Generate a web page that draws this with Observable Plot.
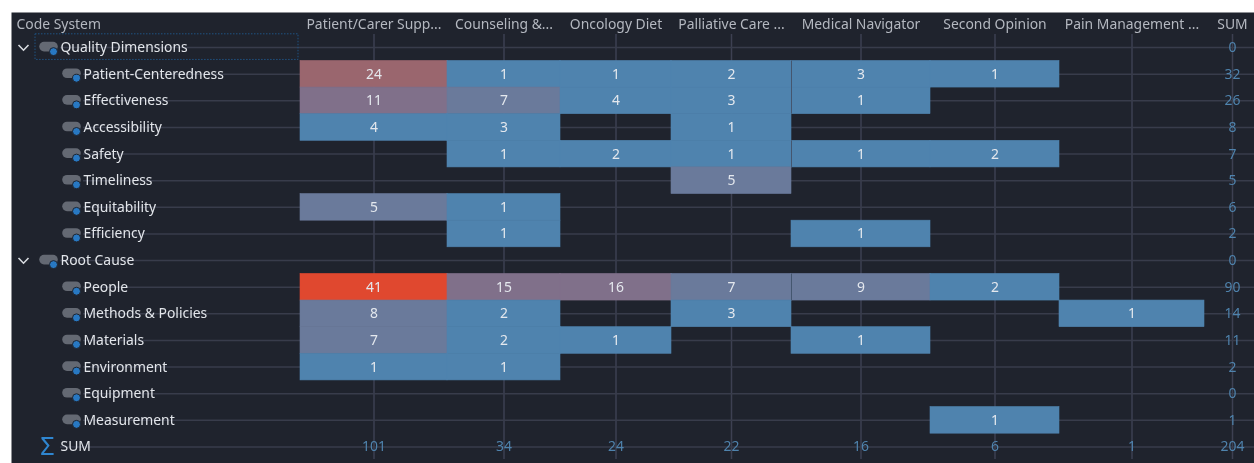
<!DOCTYPE html>
<html>
<head>
<meta charset="utf-8">
<script src="https://cdn.jsdelivr.net/npm/d3@7"></script>
<script src="https://cdn.jsdelivr.net/npm/@observablehq/plot@0.6"></script>
<style>
html,body{margin:0;padding:0;background:#fff;}
svg{display:block;filter:blur(0.4px);}
</style>
</head>
<body>
<div id="chart"></div>
<script>
const columns = ["Patient/Carer Supp...", "Counseling &...", "Oncology Diet", "Palliative Care ...", "Medical Navigator", "Second Opinion", "Pain Management ...", "SUM"];
const headerCorner = "Code System";
const groupRows = ["Quality Dimensions", "Root Cause"];
const sumRows = ["SUM"];
const rows = ["Quality Dimensions", "Patient-Centeredness", "Effectiveness", "Accessibility", "Safety", "Timeliness", "Equitability", "Efficiency", "Root Cause", "People", "Methods & Policies", "Materials", "Environment", "Equipment", "Measurement", "SUM"];

const patientCenteredness = [24, 1, 1, 2, 3, 1, 0];
const effectiveness = [11, 7, 4, 3, 1, 0, 0];
const accessibility = [4, 3, 0, 1, 0, 0, 0];
const safety = [0, 1, 2, 1, 1, 2, 0];
const timeliness = [0, 0, 0, 5, 0, 0, 0];
const equitability = [5, 1, 0, 0, 0, 0, 0];
const efficiency = [0, 1, 0, 0, 1, 0, 0];
const people = [41, 15, 16, 7, 9, 2, 0];
const methods = [8, 2, 0, 3, 0, 0, 1];
const materials = [7, 2, 1, 0, 1, 0, 0];
const environment = [1, 1, 0, 0, 0, 0, 0];
const equipment = [0, 0, 0, 0, 0, 0, 0];
const measurement = [0, 0, 0, 0, 0, 1, 0];
const rowSums = [0, 32, 26, 8, 7, 5, 6, 2, 0, 90, 14, 11, 2, 0, 1];
const columnSums = [101, 34, 24, 22, 16, 6, 1, 204];

const matrix = {
  "Patient-Centeredness": patientCenteredness, "Effectiveness": effectiveness,
  "Accessibility": accessibility, "Safety": safety, "Timeliness": timeliness,
  "Equitability": equitability, "Efficiency": efficiency, "People": people,
  "Methods & Policies": methods, "Materials": materials, "Environment": environment,
  "Equipment": equipment, "Measurement": measurement
};
const cells = Object.entries(matrix).flatMap(([row, vals]) =>
  vals.map((value, col) => ({row, col, value, joined: col === 4 && vals[3] > 0})).filter(d => d.value > 0));

const childRows = rows.filter(r => !groupRows.includes(r) && !sumRows.includes(r));
const iconRows = [...groupRows, ...childRows];
const sumCol = 7.5;
const colCenter = i => i === 7 ? sumCol : i + 0.5;
const headers = columns.map((name, i) => ({name, x: colCenter(i)}));

const BG = "#1f232d", GRID = "#383c4b", BLUE = "#4f83ad";
const pill = {draw(c) { const w = 4.5, r = 4.8;
  c.moveTo(-w, -r); c.lineTo(w, -r); c.arc(w, 0, r, -Math.PI/2, Math.PI/2);
  c.lineTo(-w, r); c.arc(-w, 0, r, Math.PI/2, -Math.PI/2); c.closePath(); }};
const chevron = {draw(c) { c.moveTo(-5, -2.6); c.lineTo(0, 2.6); c.lineTo(5, -2.6); }};
const font = {fontFamily: "'Noto Sans', 'Open Sans', sans-serif", fontSize: 13.9};

const labelMarks = (list, textDx, iconDx) => {
  const isIcon = list.filter(r => iconRows.includes(r));
  return [
    Plot.ruleY(list, {y: d => d, x1: -1, x2: 8, insetLeft: textDx, stroke: GRID, strokeWidth: 1.5}),
    Plot.dot(isIcon, {y: d => d, x: -1, dx: iconDx, dy: -1, symbol: pill, r: 5, fill: "#646973", stroke: "none"}),
    Plot.dot(isIcon, {y: d => d, x: -1, dx: iconDx + 5, dy: 4, r: 4, fill: "#2878c2", stroke: BG, strokeWidth: 1}),
    Plot.text(list, {y: d => d, x: -1, dx: textDx, text: d => d, textAnchor: "start", fill: "#e2e5ea", ...font})
  ];
};

const chart = Plot.plot({
  width: 1254, height: 463,
  marginLeft: 11, marginTop: 12, marginRight: 0, marginBottom: 0,
  style: {background: "transparent"},
  x: {type: "linear", axis: null,
      domain: [-1, 0, 1, 2, 3, 4, 5, 6, 7, 7.5, 8],
      range: [11, 300, 447, 560, 671, 791, 930, 1059, 1204, 1232, 1254]},
  y: {type: "band", axis: null, domain: rows, range: [33.8, 459.8], padding: 0, round: false},
  color: {type: "threshold", domain: [5, 10, 20, 30], range: ["#4f83ae", "#6a7a9b", "#80708a", "#9a666e", "#e0482f"]},
  marks: [
    Plot.frame({fill: BG, stroke: "none"}),
    Plot.ruleX(headers, {x: "x", insetTop: 22, insetBottom: 4, stroke: "#3d4052", strokeWidth: 1.5}),
    ...labelMarks(childRows, 72, 60),
    ...labelMarks(groupRows, 49, 37),
    ...labelMarks(sumRows, 49, 37),
    Plot.barX(["Quality Dimensions"], {y: d => d, x1: -1, x2: 0, insetLeft: 24, insetRight: 2, insetBottom: 1,
      fill: "none", stroke: "#1f5382", strokeDasharray: "1.5,1.5"}),
    Plot.dot(groupRows, {y: d => d, x: -1, dx: 12, symbol: chevron, r: 5, fill: "none", stroke: "#d8dbe0", strokeWidth: 1.6}),
    Plot.text(sumRows, {y: d => d, x: -1, dx: 36, text: () => "Σ", fill: "#2f86d0", fontFamily: font.fontFamily, fontSize: 25}),
    Plot.barX(cells, {y: "row", x1: "col", x2: d => d.col + 1, fill: "value", stroke: "value", strokeWidth: 0.6}),
    Plot.tickX(cells.filter(d => d.joined), {x: "col", y: "row", stroke: "#44566f", strokeWidth: 1}),
    Plot.text(cells, {y: "row", x: d => d.col + 0.5, text: "value", fill: "#e4e8ee", ...font}),
    Plot.text(rowSums, {y: (d, i) => rows[i], x: sumCol, text: d => d, fill: BLUE, ...font}),
    Plot.text(columnSums, {y: () => "SUM", x: (d, i) => colCenter(i), text: d => d, fill: BLUE, ...font}),
    Plot.text(headers, {x: "x", frameAnchor: "top", lineAnchor: "middle", dy: 12, text: "name", fill: "#b4b8c0", ...font}),
    Plot.text([headerCorner], {x: -1, dx: 5, frameAnchor: "top", lineAnchor: "middle", dy: 12, text: d => d, textAnchor: "start", fill: "#b4b8c0", ...font})
  ]
});
document.getElementById("chart").append(chart);
</script>
</body>
</html>
